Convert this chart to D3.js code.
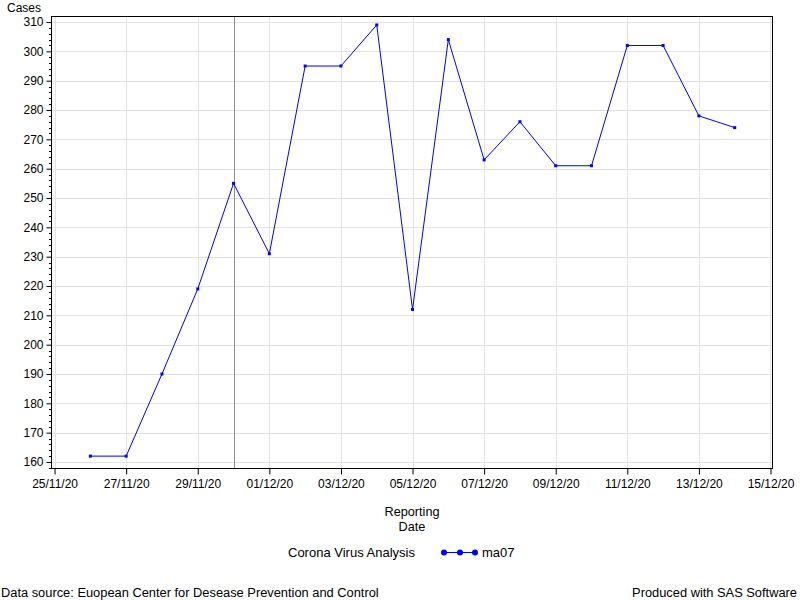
<!DOCTYPE html>
<html><head><meta charset="utf-8">
<script src="https://cdn.jsdelivr.net/npm/d3@7"></script>
<style>body{margin:0;background:#fff}svg{display:block}text{font-family:"Liberation Sans",Arial,sans-serif;fill:#000}</style>
</head><body><svg id="c" width="800" height="600"></svg>
<script>
const dates = ["2020-11-26","2020-11-27","2020-11-28","2020-11-29","2020-11-30","2020-12-01","2020-12-02","2020-12-03","2020-12-04","2020-12-05","2020-12-06","2020-12-07","2020-12-08","2020-12-09","2020-12-10","2020-12-11","2020-12-12","2020-12-13","2020-12-14"];
const ma07 = [162,162,190,219,255,231,295,295,309,212,304,263,276,261,261,302,302,278,274];
const yTicks = [160,170,180,190,200,210,220,230,240,250,260,270,280,290,300,310];
const xTickLabels = ["25/11/20","27/11/20","29/11/20","01/12/20","03/12/20","05/12/20","07/12/20","09/12/20","11/12/20","13/12/20","15/12/20"];
const refDate = "2020-11-30";

const parse = d3.utcParse("%Y-%m-%d");
const parseTick = d3.utcParse("%d/%m/%y");
const data = dates.map((d,i)=>({date:parse(d), v:ma07[i]}));
const svg = d3.select("#c");
const L=51, R=773, T=16, B=468;
const day = 864e5;
const x0 = parseTick(xTickLabels[0]), x1 = parseTick(xTickLabels[xTickLabels.length-1]);
const x = d3.scaleUtc().domain([new Date(+x0 - 0.1*day), new Date(+x1 + 0.07*day)]).range([L,R]);
const y = d3.scaleLinear().domain([157.95, 312.05]).range([B,T]);
const xt = xTickLabels.map(parseTick);

const g = svg.append("g");
// grid
g.selectAll(".gy").data(yTicks).join("line").attr("x1",L).attr("x2",R)
 .attr("y1",d=>Math.round(y(d))+0.5).attr("y2",d=>Math.round(y(d))+0.5).attr("stroke","#e3e3e3");
g.selectAll(".gx").data(xt).join("line").attr("y1",T).attr("y2",B)
 .attr("x1",d=>Math.round(x(d))+0.5).attr("x2",d=>Math.round(x(d))+0.5).attr("stroke","#e3e3e3");
// ref line
const rx = Math.round(x(parse(refDate)))+0.5;
g.append("line").attr("x1",rx).attr("x2",rx).attr("y1",T).attr("y2",B).attr("stroke","#909090");
// line
g.append("path").datum(data).attr("fill","none").attr("stroke","#0000ff").attr("stroke-width",1)
 .attr("d",d3.line().x(d=>x(d.date)).y(d=>y(d.v)));
g.selectAll(".pt").data(data).join("rect").attr("x",d=>x(d.date)-1.5).attr("y",d=>y(d.v)-1.5)
 .attr("width",3).attr("height",3).attr("fill","#0000ff");
// frame
svg.append("rect").attr("x",L+0.5).attr("y",T+0.5).attr("width",R-L-1).attr("height",B-T).attr("fill","none").attr("stroke","#000");

// y axis
const ya = svg.append("g").attr("transform",`translate(${L+0.5},0)`)
 .call(d3.axisLeft(y).tickValues(yTicks).tickSize(5).tickPadding(3).tickFormat(d3.format("d")));
ya.select(".domain").remove();
ya.selectAll("text").attr("font-size",12).style("font-family",'"Liberation Sans",Arial,sans-serif');
const minor = d3.range(158,312,2).filter(v=>v%10!==0);
svg.append("g").selectAll("line").data(minor).join("line").attr("x1",L-2).attr("x2",L)
 .attr("y1",d=>Math.round(y(d))+0.5).attr("y2",d=>Math.round(y(d))+0.5).attr("stroke","#000");
// x axis
const xa = svg.append("g").attr("transform",`translate(0,${B+0.5})`)
 .call(d3.axisBottom(x).tickValues(xt).tickSize(6).tickPadding(5).tickFormat((d,i)=>xTickLabels[i]));
xa.select(".domain").remove();
xa.selectAll("text").attr("font-size",12).style("font-family",'"Liberation Sans",Arial,sans-serif');

// labels
svg.append("text").attr("x",7).attr("y",12).attr("font-size",12).text("Cases");
svg.append("text").attr("x",412).attr("y",516).attr("text-anchor","middle").attr("font-size",12.7).text("Reporting");
svg.append("text").attr("x",412).attr("y",531).attr("text-anchor","middle").attr("font-size",12.7).text("Date");
// legend
svg.append("text").attr("x",288).attr("y",557).attr("font-size",13).text("Corona Virus Analysis");
svg.append("line").attr("x1",444).attr("x2",475).attr("y1",552.5).attr("y2",552.5).attr("stroke","#0000ff");
svg.append("g").selectAll("circle").data([444,460,475]).join("circle").attr("cx",d=>d).attr("cy",552.5).attr("r",3).attr("fill","#0000ff");
svg.append("text").attr("x",482).attr("y",557).attr("font-size",13).text("ma07");
// footnotes
svg.append("text").attr("x",1).attr("y",597).attr("font-size",12.85).text("Data source: Euopean Center for Desease Prevention and Control");
svg.append("text").attr("x",797).attr("y",597).attr("text-anchor","end").attr("font-size",12.85).text("Produced with SAS Software");
</script></body></html>
